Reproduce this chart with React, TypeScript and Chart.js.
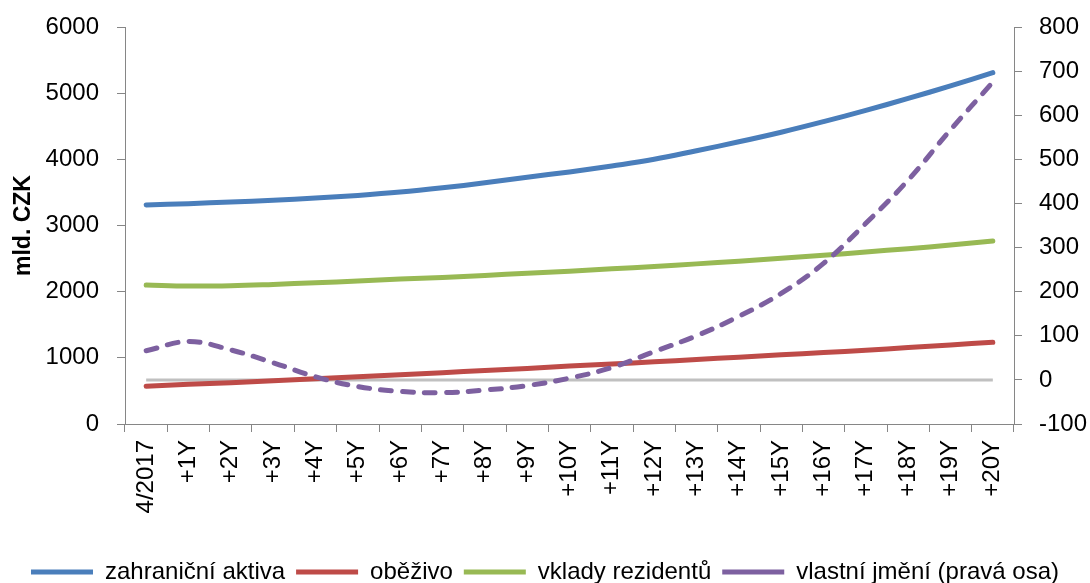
import React, { useEffect, useRef } from "react";
import { Chart, registerables } from "chart.js";

Chart.register(...registerables);

// Categories: current state plus yearly horizons
const categories = [
  "4/2017", "+1Y", "+2Y", "+3Y", "+4Y", "+5Y", "+6Y", "+7Y", "+8Y", "+9Y", "+10Y",
  "+11Y", "+12Y", "+13Y", "+14Y", "+15Y", "+16Y", "+17Y", "+18Y", "+19Y", "+20Y",
];

// Left axis (mld. CZK)
const zahranicniAktiva = [
  3310, 3330, 3355, 3380, 3415, 3455, 3505, 3570, 3645, 3730, 3810,
  3900, 4000, 4130, 4265, 4410, 4570, 4740, 4920, 5110, 5310,
];
const obezivo = [
  570, 600, 625, 655, 685, 715, 745, 775, 810, 840, 875,
  905, 940, 975, 1010, 1045, 1080, 1115, 1155, 1195, 1235,
];
const vkladyRezidentu = [
  2100, 2085, 2090, 2110, 2135, 2160, 2190, 2215, 2245, 2280, 2310,
  2345, 2380, 2420, 2460, 2505, 2550, 2600, 2650, 2705, 2765,
];

// Right axis
const vlastniJmeni = [
  66, 87, 68, 39, 7, -15, -26, -29, -23, -13, 4,
  28, 64, 100, 144, 196, 264, 355, 453, 567, 675,
];
const nulovaUroven = [
  0, 0, 0, 0, 0, 0, 0, 0, 0, 0, 0,
  0, 0, 0, 0, 0, 0, 0, 0, 0, 0,
];

const leftMin = 0;
const leftMax = 6000;
const leftStep = 1000;
const rightMin = -100;
const rightMax = 800;
const rightStep = 100;

const FONT = "'Liberation Sans', Arial, sans-serif";
const AXIS_GREY = "#868686";

const plainNumber = (v: number | string) => String(v);

export default function App() {
  const canvasRef = useRef<HTMLCanvasElement | null>(null);

  useEffect(() => {
    const canvas = canvasRef.current;
    if (!canvas) return;

    const common = {
      pointRadius: 0,
      pointHoverRadius: 0,
      borderWidth: 5,
      borderCapStyle: "round" as const,
      borderJoinStyle: "round" as const,
      tension: 0.4,
      fill: false,
    };

    const chart = new Chart(canvas, {
      type: "line",
      data: {
        labels: categories,
        datasets: [
          { ...common, label: "zahraniční aktiva", data: zahranicniAktiva, borderColor: "#4A7EBB", backgroundColor: "#4A7EBB", yAxisID: "y", order: 3 },
          { ...common, label: "oběživo", data: obezivo, borderColor: "#BE4B48", backgroundColor: "#BE4B48", yAxisID: "y", order: 2 },
          { ...common, label: "vklady rezidentů", data: vkladyRezidentu, borderColor: "#98B954", backgroundColor: "#98B954", yAxisID: "y", order: 1 },
          { ...common, label: "vlastní jmění (pravá osa)", data: vlastniJmeni, borderColor: "#7D60A0", backgroundColor: "#7D60A0", borderDash: [11, 11], yAxisID: "y1", order: 0 },
          { ...common, label: "0", data: nulovaUroven, borderColor: "#C0C0C0", backgroundColor: "#C0C0C0", borderWidth: 3, borderCapStyle: "butt" as const, tension: 0, yAxisID: "y1", order: 4 },
        ],
      },
      options: {
        animation: false,
        responsive: false,
        maintainAspectRatio: false,
        devicePixelRatio: 1,
        layout: { padding: { top: 27, left: 0, right: 0, bottom: -11 } },
        plugins: {
          tooltip: { enabled: false },
          legend: {
            display: true,
            position: "bottom",
            align: "center",
            labels: {
              usePointStyle: true,
              pointStyle: "line",
              pointStyleWidth: 62,
              padding: 11,
              color: "#000",
              font: { family: FONT, size: 24 },
              filter: (item) => item.datasetIndex !== 4,
              sort: (a, b) => (a.datasetIndex ?? 0) - (b.datasetIndex ?? 0),
            },
          },
        },
        scales: {
          x: {
            type: "category",
            offset: true,
            grid: {
              display: true,
              offset: true,
              drawOnChartArea: false,
              drawTicks: true,
              tickLength: 8,
              color: AXIS_GREY,
              lineWidth: 1,
            },
            border: { display: true, color: AXIS_GREY, width: 1 },
            ticks: {
              autoSkip: false,
              minRotation: 90,
              maxRotation: 90,
              padding: 8,
              color: "#000",
              font: { family: FONT, size: 24 },
            },
            afterFit: (s: any) => {
              s.height = 125;
              s.paddingLeft = 0;
              s.paddingRight = 0;
            },
          },
          y: {
            type: "linear",
            position: "left",
            min: leftMin,
            max: leftMax,
            ticks: {
              stepSize: leftStep,
              padding: 18,
              color: "#000",
              font: { family: FONT, size: 24 },
              callback: plainNumber,
            },
            grid: {
              display: true,
              drawOnChartArea: false,
              drawTicks: true,
              tickLength: 8,
              color: AXIS_GREY,
            },
            border: { display: true, color: AXIS_GREY, width: 1 },
            title: {
              display: true,
              text: "mld. CZK",
              color: "#000",
              font: { family: FONT, size: 23, weight: "bold" },
              padding: { top: 10, bottom: 0 },
            },
            afterFit: (s: any) => {
              s.width = 125;
              s.paddingTop = 0;
              s.paddingBottom = 0;
            },
          },
          y1: {
            type: "linear",
            position: "right",
            min: rightMin,
            max: rightMax,
            ticks: {
              stepSize: rightStep,
              padding: 17,
              color: "#000",
              font: { family: FONT, size: 24 },
              callback: plainNumber,
            },
            grid: {
              display: true,
              drawOnChartArea: false,
              drawTicks: true,
              tickLength: 8,
              color: AXIS_GREY,
            },
            border: { display: true, color: AXIS_GREY, width: 1 },
            afterFit: (s: any) => {
              s.width = 76;
              s.paddingTop = 0;
              s.paddingBottom = 0;
            },
          },
        },
      },
    });

    return () => {
      chart.destroy();
    };
  }, []);

  return (
    <div style={{ position: "fixed", left: 0, top: 0, width: 1090, height: 583, background: "#fff" }}>
      <canvas ref={canvasRef} width={1090} height={583} style={{ width: 1090, height: 583, display: "block" }} />
    </div>
  );
}
